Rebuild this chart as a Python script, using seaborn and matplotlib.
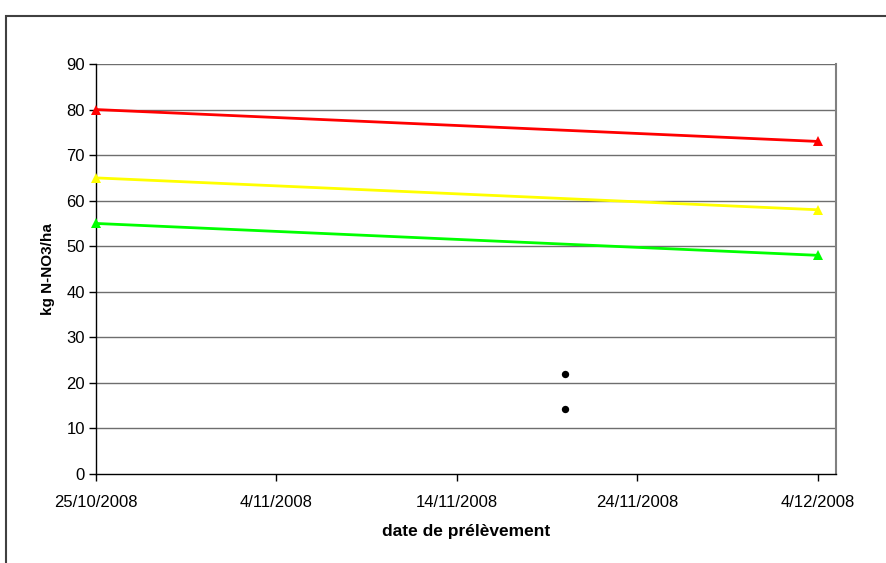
import datetime as dt
import matplotlib
matplotlib.use("Agg")
import matplotlib.pyplot as plt
import matplotlib.dates as mdates
from matplotlib.patches import Rectangle
import pandas as pd
import seaborn as sns

# Sampling dates and nitrate stocks per series
dates = [dt.datetime(2008, 10, 25), dt.datetime(2008, 12, 4)]
red_vals = [80, 73]
yellow_vals = [65, 58]
green_vals = [55, 48]

point_dates = [dt.datetime(2008, 11, 20), dt.datetime(2008, 11, 20)]
point_vals = [22, 14.3]

tick_dates = [dt.datetime(2008, 10, 25), dt.datetime(2008, 11, 4),
              dt.datetime(2008, 11, 14), dt.datetime(2008, 11, 24),
              dt.datetime(2008, 12, 4)]

series = pd.DataFrame({
    "date": dates * 3,
    "value": red_vals + yellow_vals + green_vals,
    "serie": ["rouge"] * 2 + ["jaune"] * 2 + ["vert"] * 2,
})
points = pd.DataFrame({"date": point_dates, "value": point_vals})

sns.set_style("white")
plt.rcParams["font.family"] = ["Liberation Sans", "DejaVu Sans"]
plt.rcParams["text.color"] = "black"
plt.rcParams["axes.labelcolor"] = "black"
plt.rcParams["xtick.color"] = "black"
plt.rcParams["ytick.color"] = "black"

fig = plt.figure(figsize=(8.87, 5.63), dpi=100)
ax = fig.add_axes([96 / 887, 1 - 474 / 563, (836 - 96) / 887, (474 - 64) / 563])

# outer chart frame
fig.patches.append(Rectangle((6 / 887, -0.05), 1.0, 1 - 16 / 563 + 0.05,
                             transform=fig.transFigure, fill=False,
                             edgecolor="#404040", linewidth=1.5))

ax.set_axisbelow(True)
for y in range(10, 100, 10):
    ax.axhline(y, color="#6e6e6e", linewidth=1.0, zorder=0)

palette = {"rouge": "#ff0000", "jaune": "#ffff00", "vert": "#00ff00"}
sns.lineplot(data=series, x="date", y="value", hue="serie", palette=palette,
             marker="^", markersize=7, markeredgewidth=0, linewidth=2,
             legend=False, ax=ax, clip_on=False, zorder=4)
sns.scatterplot(data=points, x="date", y="value", color="black", s=28,
                edgecolor="black", linewidth=0, legend=False, ax=ax, zorder=5)

ax.set_xlim(dt.datetime(2008, 10, 25), dt.datetime(2008, 12, 5))
ax.set_ylim(0, 90)
ax.set_yticks(range(0, 100, 10))
ax.set_xticks(tick_dates)
ax.xaxis.set_major_formatter(
    matplotlib.ticker.FuncFormatter(
        lambda v, pos: (lambda d: f"{d.day}/{d.month}/{d.year}")(mdates.num2date(v))))

for side in ("left", "bottom"):
    ax.spines[side].set_color("black")
    ax.spines[side].set_linewidth(1.0)
    ax.spines[side].set_zorder(3)
ax.spines["right"].set_color("#808080")
ax.spines["right"].set_linewidth(1.5)
ax.spines["top"].set_visible(False)

ax.tick_params(axis="y", direction="out", length=5, width=1, color="black",
               labelcolor="black", labelsize=12, pad=3, left=True)
ax.tick_params(axis="x", direction="out", length=5, width=1, color="black",
               labelcolor="black", labelsize=12, pad=10, bottom=True)

ax.set_xlabel("date de prélèvement", fontsize=12.5, fontweight="bold",
              color="black", labelpad=10)
ax.set_ylabel("kg N-NO3/ha", fontsize=11, fontweight="bold",
              color="black", labelpad=8)

fig.savefig("out.png", dpi=100)
